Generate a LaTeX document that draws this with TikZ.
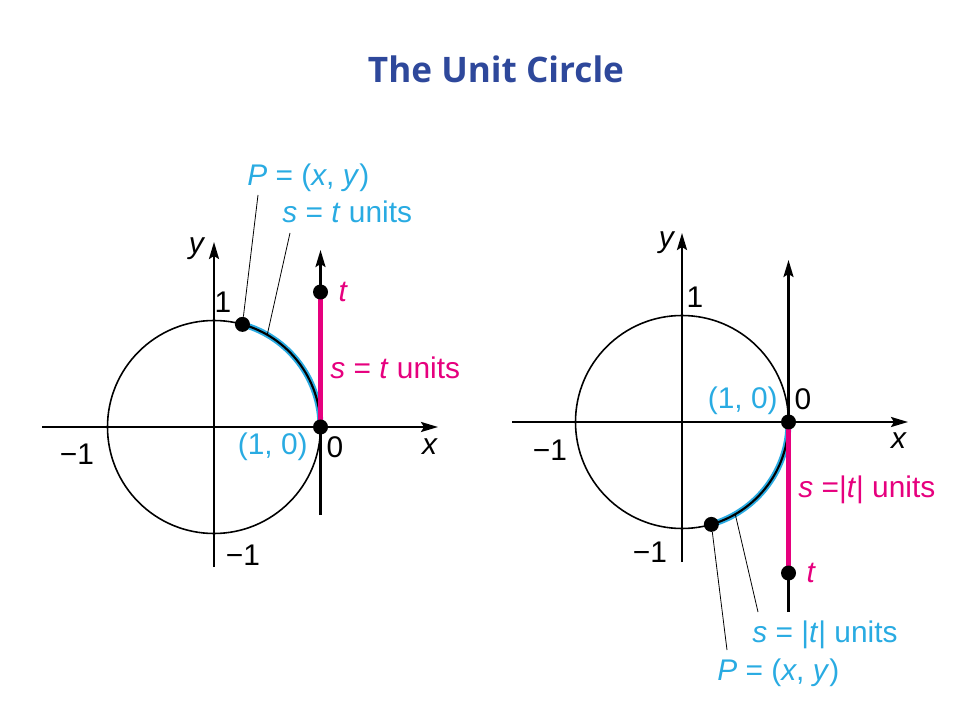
\documentclass[tikz,border=0pt]{standalone}
\usepackage{fontspec}
\setmainfont{Liberation Sans}
\newfontfamily\titlefont{Open Sans}
\usetikzlibrary{positioning,arrows.meta}

\definecolor{titleblue}{RGB}{46,72,155}
\definecolor{arccyan}{RGB}{41,171,226}
\definecolor{segmagenta}{RGB}{230,0,126}

\tikzset{
 axis/.style={line width=1.3pt,-{Stealth[length=0.34cm,width=0.2cm,inset=0.06cm]}},
 dot/.style={circle,fill=black,inner sep=0pt,minimum size=0.3cm},
 lbl/.style={font=\fontsize{17}{19}\selectfont,inner sep=0pt},
 leader/.style={line width=0.45pt},
}

\begin{document}
\begin{tikzpicture}
\useasboundingbox (0,0) rectangle (19.2,14.4);

%Title
\node (title) [anchor=base,text=titleblue,font=\titlefont\bfseries\fontsize{20}{24}\selectfont] at (9.92,12.74) {The Unit Circle};

%Left graph: positive t
\begin{scope}[shift={(4.28,5.86)}]
% center of the graph
\coordinate (centerL) at (0,0);
\draw[line width=0.9pt] (centerL) circle (2.13);

%Axis
\draw[axis] (-3.44,0) -- (4.48,0);
\draw[axis] (0,-2.80) -- (0,3.70);
\draw[axis] (2.13,-1.76) -- (2.13,3.54);

%Arc and segment
\draw[arccyan,line width=3.4pt] (2.13,0) arc (0:74.5:2.13);
\draw[line width=1.2pt] (2.13,0) arc (0:74.5:2.13);
\draw[segmagenta,line width=2.6pt] (2.13,0) -- (2.13,2.70);

%Points
\node (pointL) [dot] at (74.5:2.13) {};
\node (tdotL) [dot] at (2.13,2.70) {};
\node (originL) [dot] at (2.13,0) {};

%Names
\node (yL) [lbl] at (-0.34,3.56) {\textit{y}};
\node (xL) [lbl] at (4.32,-0.40) {\textit{x}};
\node (oneL) [lbl] at (0.18,2.50) {1};
\node (minusxL) [lbl] at (-2.74,-0.54) {−1};
\node (minusyL) [lbl] at (0.58,-2.56) {−1};
\node (pairL) [lbl,arccyan,anchor=east] at (1.88,-0.40) {(1, 0)};
\node (zeroL) [lbl] at (2.42,-0.40) {0};
\node (tL) [lbl,segmagenta,right=0.2cm of tdotL] {\textit{t}};
\node (segL) [lbl,segmagenta,anchor=west] at (2.32,1.18) {\textit{s} = \textit{t} units};
\node (PL) [lbl,arccyan,anchor=west] at (0.66,4.98) {\textit{P} = (\textit{x}, \textit{y})};
\node (arcL) [lbl,arccyan,anchor=west] at (1.36,4.30) {\textit{s} = \textit{t} units};

%Leader lines
\coordinate (endPL) at (0.88,4.64);
\coordinate (endarcL) at (1.52,3.88);
\coordinate (midarcL) at (60:2.13);
\draw[leader] (pointL) -- (endPL);
\draw[leader] (midarcL) -- (endarcL);
\end{scope}

%Right graph: negative t
\begin{scope}[shift={(13.64,5.96)}]
% center of the graph
\coordinate (centerR) at (0,0);
\draw[line width=0.9pt] (centerR) circle (2.13);

%Axis
\draw[axis] (-3.40,0) -- (4.52,0);
\draw[axis] (0,-2.80) -- (0,3.78);
\draw[axis] (2.13,-3.80) -- (2.13,3.24);

%Arc and segment
\draw[arccyan,line width=3.4pt] (2.13,0) arc (0:-74:2.13);
\draw[line width=1.2pt] (2.13,0) arc (0:-74:2.13);
\draw[segmagenta,line width=2.6pt] (2.13,0) -- (2.13,-3.02);

%Points
\node (pointR) [dot] at (-74:2.13) {};
\node (tdotR) [dot] at (2.13,-3.02) {};
\node (originR) [dot] at (2.13,0) {};

%Names
\node (yR) [lbl] at (-0.30,3.58) {\textit{y}};
\node (xR) [lbl] at (4.34,-0.38) {\textit{x}};
\node (oneR) [lbl] at (0.26,2.50) {1};
\node (minusxR) [lbl] at (-2.64,-0.56) {−1};
\node (minusyR) [lbl] at (-0.64,-2.60) {−1};
\node (pairR) [lbl,arccyan,anchor=east] at (1.92,0.42) {(1, 0)};
\node (zeroR) [lbl] at (2.42,0.46) {0};
\node (tR) [lbl,segmagenta,right=0.2cm of tdotR] {\textit{t}};
\node (segR) [lbl,segmagenta,anchor=west] at (2.32,-1.36) {\textit{s} =|\textit{t}| units};
\node (arcR) [lbl,arccyan,anchor=west] at (1.40,-4.26) {\textit{s} = |\textit{t}| units};
\node (PR) [lbl,arccyan,anchor=west] at (0.70,-5.02) {\textit{P} = (\textit{x}, \textit{y})};

%Leader lines
\coordinate (endPR) at (0.90,-4.56);
\coordinate (endarcR) at (1.52,-3.80);
\coordinate (midarcR) at (-60:2.13);
\draw[leader] (pointR) -- (endPR);
\draw[leader] (midarcR) -- (endarcR);
\end{scope}

\end{tikzpicture}
\end{document}
